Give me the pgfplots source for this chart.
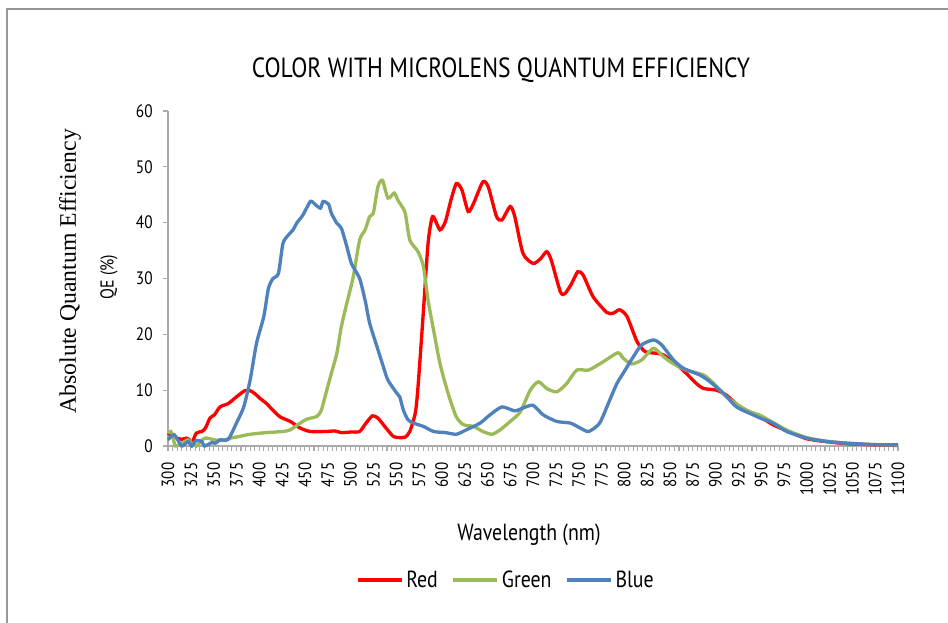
\documentclass[border=0pt]{standalone}
\usepackage{fontspec}
\usepackage{pgfplots}
\pgfplotsset{compat=1.18}
\setmainfont{PT Sans}[FakeStretch=0.85]
\newfontfamily\timesf{Liberation Serif}
\definecolor{cred}{RGB}{255,0,0}
\definecolor{cgreen}{RGB}{155,187,89}
\definecolor{cblue}{RGB}{79,129,189}
\definecolor{axgray}{RGB}{170,170,170}
\begin{document}
\begin{tikzpicture}
\useasboundingbox (-126pt,-132.75pt) rectangle (585pt,334.5pt);
\draw[color={rgb,255:red,150;green,150;blue,150},line width=1.2pt] (-120.75pt,-140pt) -- (-120.75pt,327.75pt) -- (590pt,327.75pt);
\begin{axis}[
  scale only axis,
  width=547.5pt, height=251.25pt,
  xmin=300, xmax=1100, ymin=0, ymax=60,
  axis x line=bottom, axis y line=left,
  axis line style={-, draw=axgray, line width=1pt},
  xtick={300,325,...,1100},
  minor x tick num=4,
  ytick={0,10,...,60},
  tick align=outside,
  major tick length=4pt, minor tick length=4pt,
  tick style={draw=axgray, line width=0.8pt},
  every tick/.style={draw=axgray, line width=0.8pt},
  /pgf/number format/assume math mode=true,
  /pgf/number format/1000 sep={},
  xticklabel style={rotate=90, anchor=east, font=\fontsize{13.3}{13.3}\selectfont},
  xticklabel shift=5pt,
  yticklabel style={font=\fontsize{13.5}{13.5}\selectfont},
  yticklabel shift=4pt,
  clip=false,
  legend style={at={(0.463,-0.4)}, anchor=center, draw=none, fill=none,
    legend columns=3, font=\fontsize{17.5}{17.5}\selectfont,
    /tikz/every even column/.append style={column sep=8pt}},
  legend image code/.code={\draw[#1,line width=3pt] (0pt,0pt) -- (33pt,0pt);},
  every axis plot/.append style={line width=2.5pt, smooth, tension=0.4},
]
\addplot[cred] coordinates {
(300,2.3)(305,1.8)(310,1.4)(315,1.2)(320,1.4)(323,1.2)(326,0.5)(331,2.3)(337,2.6)(341,3.2)(346,5.0)(351,5.6)(357,7.0)(366,7.6)(375,8.8)(384,9.9)(390,9.9)(395,9.4)(401,8.5)(408,7.6)(415,6.4)(423,5.2)(434,4.4)(445,3.2)(456,2.6)(474,2.6)(483,2.7)(490,2.4)(500,2.5)(510,2.6)(517,4.1)(524,5.4)(530,5.0)(539,3.2)(547,1.7)(554,1.5)(560,1.6)(565,2.6)(571,5.9)(574,10.6)(580,24.4)(585,36.3)(590,41.1)(598,38.7)(604,40.2)(610,44)(616,47.0)(622,45.9)(629,42.0)(635,43.5)(645,47.3)(651,46.4)(660,41.1)(666,40.5)(675,42.9)(680,41.1)(689,34.5)(700,32.7)(708,33.5)(715,34.8)(720,33.3)(730,27.6)(735,27.3)(742,29)(749,31.2)(755,30.6)(766,26.7)(781,23.9)(788,23.8)(795,24.4)(803,23.2)(814,18.7)(823,16.9)(836,16.6)(843,16.3)(856,14.8)(868,13.0)(879,11.2)(887,10.3)(901,10.0)(912,9.1)(927,7.0)(949,5.2)(963,3.8)(980,2.6)(1000,1.3)(1020,0.8)(1045,0.4)(1075,0.2)(1100,0.1)
};
\addlegendentry{Red}
\addplot[cgreen] coordinates {
(300,2.3)(303,2.6)(305,2.0)(308,0)(315,0.5)(322,1.1)(326,0.5)(331,0)(340,1.4)(351,1.1)(360,1.0)(368,1.4)(375,1.6)(390,2.1)(408,2.4)(426,2.6)(434,2.9)(445,4.1)(452,4.8)(463,5.3)(468,6.4)(474,10.0)(479,13.0)(485,16.6)(490,21.4)(496,25.6)(503,30.3)(510,36.9)(516,38.7)(521,41.1)(525,41.7)(530,46.4)(535,47.6)(541,44.4)(548,45.3)(552,44)(556,43)(560,41.7)(565,36.9)(574,34.8)(580,32.1)(585,26.1)(591,20.8)(598,14.8)(607,9.4)(616,5.2)(624,3.8)(635,3.5)(645,2.6)(655,2.1)(664,2.9)(675,4.4)(686,6.1)(697,10.0)(706,11.5)(715,10.3)(726,9.7)(737,11.2)(748,13.6)(761,13.6)(777,15.1)(793,16.7)(799,15.7)(808,14.7)(819,15.4)(832,17.5)(843,16.0)(854,14.7)(868,13.6)(887,12.7)(898,11.2)(912,8.8)(934,6.4)(949,5.5)(963,4.2)(980,2.7)(1000,1.5)(1020,0.9)(1045,0.5)(1075,0.25)(1100,0.15)
};
\addlegendentry{Green}
\addplot[cblue] coordinates {
(300,1.1)(307,2.0)(315,0)(322,0.8)(326,0)(331,1.0)(337,0.8)(340,0)(348,0.6)(352,0.5)(357,1.1)(366,1.2)(375,4.1)(383,7.0)(390,11.8)(397,18.4)(405,23.2)(410,28.2)(415,30.0)(421,30.9)(426,36.3)(432,37.8)(437,38.7)(441,39.9)(448,41.4)(456,43.8)(461,43.3)(467,42.6)(470,43.8)(476,43.3)(479,41.7)(485,39.9)(490,39.0)(496,35.7)(501,32.7)(510,30.0)(516,26.1)(521,22.0)(529,17.8)(536,14.2)(541,11.8)(551,9.4)(554,8.8)(558,6.4)(563,4.7)(569,4.1)(580,3.5)(591,2.6)(604,2.4)(616,2.1)(627,2.9)(642,4.1)(653,5.6)(666,7.0)(680,6.3)(689,6.8)(700,7.3)(711,5.6)(726,4.4)(741,4.1)(752,3.2)(761,2.6)(773,4.1)(784,8.2)(792,11.2)(801,13.6)(810,16.0)(819,18.1)(832,19.0)(841,18.1)(854,15.4)(865,13.9)(883,12.7)(894,11.5)(909,9.4)(923,7.0)(941,5.6)(949,5.0)(963,4.1)(978,2.6)(1000,1.4)(1022,0.8)(1044,0.5)(1073,0.25)(1100,0.2)
};
\addlegendentry{Blue}
\node[font=\fontsize{20.8}{20.8}\selectfont] at (rel axis cs:0.456,1.122) {COLOR WITH MICROLENS QUANTUM EFFICIENCY};
\node[font=\fontsize{17.5}{17.5}\selectfont] at (rel axis cs:0.4945,-0.266) {Wavelength (nm)};
\node[rotate=90, font=\fontsize{14}{14}\selectfont] at (rel axis cs:-0.0808,0.504) {QE (\%)};
\node[rotate=90, font=\timesf\fontsize{17.8}{17.8}\selectfont] at (rel axis cs:-0.134,0.522) {Absolute Quantum Efficiency};
\end{axis}
\end{tikzpicture}
\end{document}
